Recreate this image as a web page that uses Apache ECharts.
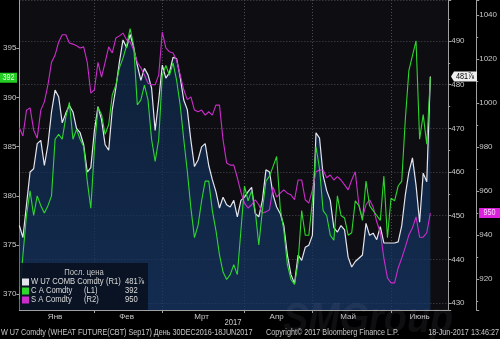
<!DOCTYPE html>
<html>
<head>
<meta charset="utf-8">
<script src="https://cdn.jsdelivr.net/npm/echarts@6/dist/echarts.min.js"></script>
<style>
  html, body { margin: 0; padding: 0; background: #000; }
  #chart { width: 500px; height: 339px; }
</style>
</head>
<body>
<div id="chart"></div>
<script>
// Trading calendar (CBOT) for the displayed window, plus one blank week on the right
const firstDay = '2016-12-30';
const lastDay = '2017-06-23';
const holidays = ['2017-01-02', '2017-01-16', '2017-02-20', '2017-04-14', '2017-05-29'];
const monthNames = ['Янв', 'Фев', 'Мрт', 'Апр', 'Май', 'Июнь', 'Июль', 'Авг', 'Сен', 'Окт', 'Ноя', 'Дек'];

// W U7 COMB Comdty (R1), cents/bu
const wheat = [447.75,445.0,452.5,460.0,460.75,466.5,467.25,461.5,466.25,473.75,
  478.75,477.25,471.25,473.5,475.25,473.75,470.0,469.0,466.25,460.0,
  461.0,469.5,475.0,472.0,466.25,465.0,474.25,479.25,485.25,490.25,
  488.5,491.5,488.5,484.5,481.0,483.75,482.25,479.25,469.5,476.5,
  484.5,481.5,482.75,486.25,486.0,481.75,476.5,474.25,467.25,461.25,
  462.75,465.75,466.5,461.5,458.25,455.5,451.75,454.25,452.5,452.0,
  453.5,449.75,453.5,454.25,455.5,456.5,450.5,449.75,453.5,460.5,
  460.0,454.75,452.0,450.5,447.75,441.0,436.5,434.5,441.0,439.75,
  442.75,443.25,445.5,469.0,467.75,459.25,455.75,453.5,447.25,446.25,
  447.75,446.75,440.5,438.25,439.5,440.25,441.0,448.25,445.5,446.0,
  444.5,447.5,443.75,443.75,443.75,443.75,444.0,447.75,454.75,460.0,
  463.25,457.0,448.5,459.75,457.75,481.875];

// C A Comdty (L1)
const corn = [369.5,374.0,378.0,380.5,378.0,380.0,379.0,378.25,379.0,380.0,
  385.75,386.25,385.75,388.0,389.5,385.75,386.75,385.75,385.0,381.5,
  378.75,384.75,389.0,388.25,386.25,387.25,390.25,391.25,393.0,394.0,
  395.25,397.0,395.25,389.25,389.75,391.25,389.75,385.75,383.5,385.75,
  392.25,393.25,392.25,393.5,391.75,389.25,385.75,382.5,378.75,375.75,
  377.0,379.5,381.5,381.5,378.5,376.5,374.0,372.25,371.5,372.0,
  373.0,372.0,376.5,381.0,379.5,380.5,378.5,375.0,378.5,381.5,
  382.0,383.0,384.0,378.75,376.5,373.0,371.5,371.0,373.25,378.5,
  376.0,376.0,379.5,385.0,382.75,378.5,378.0,376.0,375.5,380.0,
  378.0,377.75,376.0,376.25,379.5,379.0,377.5,381.5,379.0,378.5,
  378.0,377.5,382.0,375.75,379.75,379.5,381.0,381.5,387.75,392.75,
  394.25,395.75,385.75,388.25,385.25,392.0];

// S A Comdty (R2)
const soy = [988.75,985.0,996.75,997.75,987.75,984.0,996.75,1000.5,1008.25,1018.5,
  1021.75,1027.75,1031.0,1031.0,1027.25,1026.75,1026.0,1025.0,1025.5,1018.5,
  1004.5,1006.0,1018.5,1011.75,1018.5,1025.5,1022.75,1029.5,1030.5,1031.75,
  1028.75,1027.75,1024.0,1018.5,1016.0,1012.75,1009.0,1008.25,1008.25,1012.75,
  1032.25,1025.0,1023.25,1022.75,1019.5,1012.75,1006.0,1001.5,1002.75,996.75,
  996.0,996.75,994.5,996.0,994.5,999.0,999.0,983.25,972.75,971.75,
  971.75,966.0,959.5,954.5,952.25,953.75,956.0,953.75,950.0,950.5,
  951.5,961.75,957.25,959.0,960.5,959.0,958.25,956.0,965.0,965.0,
  956.0,954.5,960.5,968.75,969.5,969.5,966.0,967.25,965.0,966.5,
  965.0,962.75,960.5,965.0,968.75,953.75,947.75,953.75,956.0,952.75,
  946.0,941.25,929.5,920.5,918.25,918.25,925.0,929.5,934.5,940.0,
  943.25,948.25,939.0,939.0,941.0,950.0];

const lastLabels = { wheat: '481⅞', corn: '392', soy: '950' };

// Build the list of trading days
function tradingDays(from, to, skip) {
  const out = [];
  const d = new Date(from + 'T00:00:00Z');
  const end = new Date(to + 'T00:00:00Z');
  while (d <= end) {
    const s = d.toISOString().slice(0, 10);
    const wd = d.getUTCDay();
    if (wd !== 0 && wd !== 6 && skip.indexOf(s) < 0) out.push(s);
    d.setUTCDate(d.getUTCDate() + 1);
  }
  return out;
}
const dates = tradingDays(firstDay, lastDay, holidays);

// First trading day of each month (grid lines) and middle of each month (labels)
const monthStart = new Set();
const monthMid = new Set();
(function () {
  const groups = {};
  dates.forEach((s, i) => {
    const k = s.slice(0, 7);
    (groups[k] = groups[k] || []).push(i);
  });
  Object.keys(groups).forEach(k => {
    if (k.startsWith('2016')) return;
    const idx = groups[k];
    if (k !== '2017-01') monthStart.add(idx[0]);
    monthMid.add(Math.floor((idx[0] + idx[idx.length - 1]) / 2));
  });
})();

const FONT = "'Liberation Sans',Arial,sans-serif";
const C_WHEAT = '#e4e4ec';
const C_CORN = '#2ed62e';
const C_SOY = '#cc2ccc';
const AXIS = '#a0a0a0';
const LABEL = '#c8c8c8';
const GRID = '#4a4a54';

const chart = echarts.init(document.getElementById('chart'), null, { renderer: 'canvas' });

const yLabel = { color: LABEL, fontSize: 8, margin: 3, showMinLabel: false, showMaxLabel: false, fontFamily: FONT, formatter: (v) => String(v) };

const option = {
  backgroundColor: '#000',
  animation: false,
  textStyle: { fontFamily: FONT },
  grid: { left: 17, right: 50, top: 0, bottom: 29, show: true, backgroundColor: '#0e0e12', borderWidth: 0 },
  xAxis: {
    type: 'category',
    data: dates,
    boundaryGap: false,
    axisLine: { lineStyle: { color: AXIS, width: 1 } },
    axisTick: { interval: (i) => monthStart.has(i), length: 3, lineStyle: { color: AXIS } },
    axisLabel: {
      interval: (i) => monthMid.has(i),
      formatter: (v) => monthNames[parseInt(v.slice(5, 7), 10) - 1],
      color: LABEL, fontSize: 8, margin: 3, fontFamily: FONT
    },
    splitLine: { show: true, interval: (i) => monthStart.has(i), lineStyle: { color: GRID, type: [1, 2], width: 1 } }
  },
  yAxis: [
    {
      type: 'value', position: 'left', min: 368.4, max: 399.9, splitNumber: 6,
      axisLine: { show: true, lineStyle: { color: AXIS } },
      axisTick: { show: true, length: 3, lineStyle: { color: AXIS } },
      axisLabel: yLabel,
      splitLine: { show: false }
    },
    {
      type: 'value', position: 'right', min: 428.4, max: 499.4, splitNumber: 7,
      axisLine: { show: true, lineStyle: { color: AXIS } },
      axisTick: { show: true, length: 3, lineStyle: { color: AXIS } },
      minorTick: { show: true, splitNumber: 2, length: 2, lineStyle: { color: AXIS } },
      axisLabel: yLabel,
      splitLine: { show: true, lineStyle: { color: GRID, type: [1, 2], width: 1 } }
    },
    {
      type: 'value', position: 'right', offset: 28, min: 905.9, max: 1046.8, splitNumber: 7,
      axisLine: { show: true, lineStyle: { color: AXIS } },
      axisTick: { show: true, length: 3, lineStyle: { color: AXIS } },
      minorTick: { show: true, splitNumber: 2, length: 2, lineStyle: { color: AXIS } },
      axisLabel: yLabel,
      splitLine: { show: false }
    }
  ],
  series: [
    {
      name: 'W U7 COMB Comdty', type: 'line', yAxisIndex: 1, data: wheat,
      showSymbol: false, z: 1,
      lineStyle: { color: C_WHEAT, width: 1.2 },
      areaStyle: {
        origin: 'start',
        color: new echarts.graphic.LinearGradient(0, 0, 0, 1, [
          { offset: 0, color: '#0e2748' },
          { offset: 1, color: '#15386a' }
        ])
      }
    },
    {
      name: 'S A Comdty', type: 'line', yAxisIndex: 2, data: soy,
      showSymbol: false, z: 2,
      lineStyle: { color: C_SOY, width: 1.1 }
    },
    {
      name: 'C A Comdty', type: 'line', yAxisIndex: 0, data: corn,
      showSymbol: false, z: 3,
      lineStyle: { color: C_CORN, width: 1.1 }
    }
  ]
};
chart.setOption(option);

// Last-price tags on the axes, placed through the axis scales
const yCorn = chart.convertToPixel({ yAxisIndex: 0 }, corn[corn.length - 1]);
const yWheat = chart.convertToPixel({ yAxisIndex: 1 }, wheat[wheat.length - 1]);
const ySoy = chart.convertToPixel({ yAxisIndex: 2 }, soy[soy.length - 1]);

// Narrow text helper (horizontal squeeze imitates a condensed terminal font)
function txt(x, y, s, opts, sx) {
  return {
    type: 'text', x: x, y: y, scaleX: sx || 0.85, silent: true, z: 100,
    style: Object.assign({ text: s, fill: LABEL, fontSize: 8.5, fontFamily: FONT, textAlign: 'left', textVerticalAlign: 'middle' }, opts || {})
  };
}

const legendRows = [
  { color: C_WHEAT, name: 'W U7 COMB Comdty', axis: '(R1)', value: lastLabels.wheat },
  { color: C_CORN, name: 'C A Comdty', axis: '(L1)', value: lastLabels.corn },
  { color: C_SOY, name: 'S A Comdty', axis: '(R2)', value: lastLabels.soy }
];

const graphics = [
  // watermark
  txt(283, 320, 'SMGroup', { fontSize: 42, fontStyle: 'italic', fontWeight: 'bold', fill: 'rgba(150,150,165,0.10)' }, 0.9),
  // legend panel
  { type: 'rect', shape: { x: 20, y: 263, width: 128, height: 47 }, style: { fill: 'rgba(9,17,32,0.92)' }, z: 90, silent: true },
  txt(84, 273, 'Посл. цена', { textAlign: 'center', fontSize: 9 })
];
legendRows.forEach((r, k) => {
  const y = 282 + k * 9;
  graphics.push({ type: 'rect', shape: { x: 22, y: y - 3.5, width: 7, height: 7 }, style: { fill: r.color }, z: 100, silent: true });
  graphics.push(txt(31, y, r.name, { fill: '#dcdcdc', fontSize: 9 }));
  graphics.push(txt(k === 0 ? 106 : 84, y, r.axis, { fill: '#dcdcdc', fontSize: 9 }));
  graphics.push(txt(125, y, r.value, { fill: '#dcdcdc', fontSize: 9 }));
});

// axis tags
graphics.push({ type: 'rect', shape: { x: 0, y: yCorn - 5, width: 17, height: 10 }, style: { fill: '#22cc22' }, z: 100, silent: true });
graphics.push(txt(8.5, yCorn, lastLabels.corn, { textAlign: 'center', fill: '#e4ffe4', fontSize: 8.5 }));
graphics.push({ type: 'polygon', shape: { points: [[451, yWheat], [454, yWheat - 5], [477, yWheat - 5], [477, yWheat + 5], [454, yWheat + 5]] }, style: { fill: '#eeeeee' }, z: 100, silent: true });
graphics.push(txt(465, yWheat, lastLabels.wheat, { textAlign: 'center', fill: '#000', fontSize: 8.5 }));
graphics.push({ type: 'rect', shape: { x: 479, y: ySoy - 5, width: 21, height: 10 }, style: { fill: '#dd22dd' }, z: 100, silent: true });
graphics.push(txt(489.5, ySoy, lastLabels.soy, { textAlign: 'center', fill: '#ffd6ff', fontSize: 8.5 }));

// footer
graphics.push(txt(233, 323, '2017', { textAlign: 'center', fontSize: 9 }));
graphics.push(txt(1, 333, 'W U7 Comdty (WHEAT FUTURE(CBT) Sep17) День 30DEC2016-18JUN2017', { fontSize: 8.5 }));
graphics.push(txt(266, 333, 'Copyright© 2017 Bloomberg Finance L.P.', { fontSize: 8.5 }));
graphics.push(txt(499, 333, '18-Jun-2017 13:46:27', { textAlign: 'right', fontSize: 8.5 }));

chart.setOption({ graphic: graphics });
</script>
</body>
</html>
